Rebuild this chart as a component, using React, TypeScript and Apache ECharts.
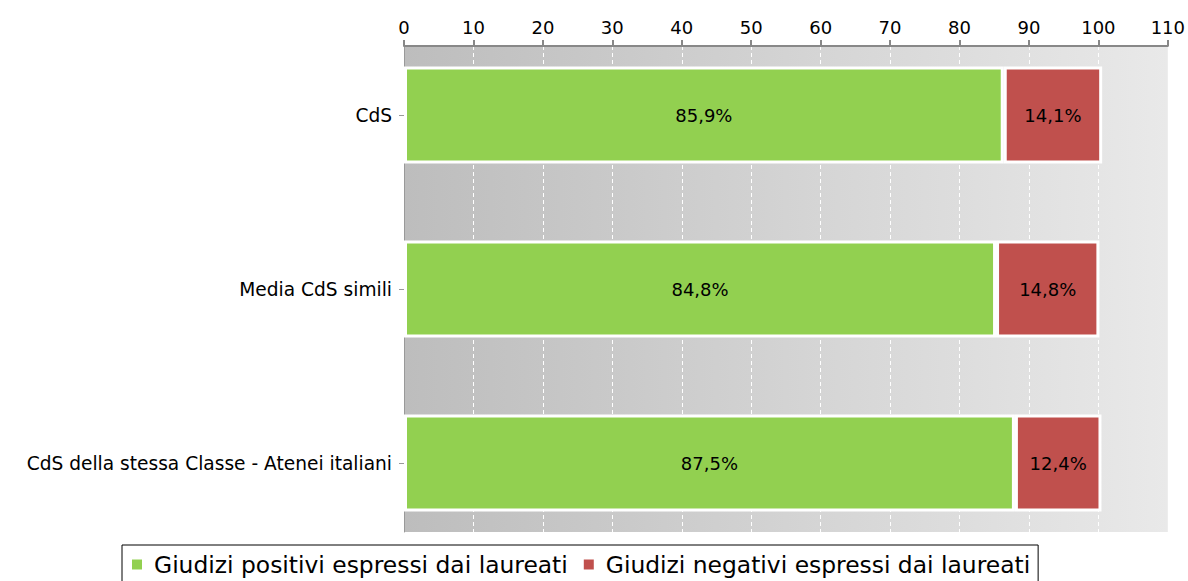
import React, { useEffect, useRef } from "react";
import * as echarts from "echarts";

const categories = ["CdS", "Media CdS simili", "CdS della stessa Classe - Atenei italiani"];
const positivi = [85.9, 84.8, 87.5];
const negativi = [14.1, 14.8, 12.4];
const seriesNames = ["Giudizi positivi espressi dai laureati", "Giudizi negativi espressi dai laureati"];
const xMin = 0;
const xMax = 110;
const xStep = 10;

const FONT = "DejaVu Sans";

function fmt(v: number) {
  return v.toFixed(1).replace(".", ",") + "%";
}

export default function App() {
  const ref = useRef<HTMLDivElement>(null);
  useEffect(() => {
    if (!ref.current) return;
    const chart = echarts.init(ref.current, undefined, { renderer: "svg" });
    const labelStyle = {
      show: true,
      position: "inside",
      color: "#000",
      fontFamily: FONT,
      fontSize: 18,
      formatter: (p: any) => fmt(p.value),
    };
    chart.setOption({
      animation: false,
      textStyle: { fontFamily: FONT },
      grid: [
        { left: 404, right: 16, top: 28, bottom: 31, containLabel: false },
        {
          left: 404,
          right: 16,
          top: 46,
          bottom: 49,
          show: true,
          borderWidth: 0,
          backgroundColor: new echarts.graphic.LinearGradient(0, 0, 1, 0, [
            { offset: 0, color: "#bdbdbd" },
            { offset: 1, color: "#e9e9e9" },
          ]),
        },
      ],
      xAxis: [
        { type: "value", gridIndex: 0, min: xMin, max: xMax, interval: xStep, show: false },
        {
          type: "value",
          gridIndex: 1,
          position: "top",
          min: xMin,
          max: xMax,
          interval: xStep,
          axisLine: { show: true, lineStyle: { color: "#888", width: 2 } },
          axisTick: { show: true, length: 6, lineStyle: { color: "#888", width: 2 } },
          axisLabel: { color: "#000", fontSize: 18, fontFamily: FONT, margin: 10 },
          splitLine: { show: true, lineStyle: { color: "#ffffff", type: [4, 3], width: 1 } },
        },
      ],
      yAxis: [
        {
          type: "category",
          gridIndex: 0,
          data: categories,
          inverse: true,
          axisLine: { show: false },
          axisTick: { show: true, alignWithLabel: true, length: 5, lineStyle: { color: "#999" } },
          axisLabel: { color: "#000", fontSize: 18.6, fontFamily: FONT, margin: 12 },
        },
        {
          type: "category",
          gridIndex: 1,
          data: categories,
          inverse: true,
          axisLine: { show: true, lineStyle: { color: "#999", width: 1 } },
          axisTick: { show: false },
          axisLabel: { show: false },
        },
      ],
      legend: {
        left: 122,
        top: 545,
        data: seriesNames,
        itemWidth: 12,
        itemHeight: 12,
        itemGap: 14,
        icon: "rect",
        borderColor: "#000",
        borderWidth: 1,
        borderRadius: 0,
        padding: [8, 8, 10, 8],
        backgroundColor: "#fff",
        textStyle: { color: "#000", fontSize: 23.4, fontFamily: FONT, padding: [0, 0, 0, 6] },
      },
      series: [
        {
          name: seriesNames[0],
          type: "bar",
          stack: "tot",
          xAxisIndex: 0,
          yAxisIndex: 0,
          data: positivi,
          barWidth: 97,
          itemStyle: { color: "#92d050", borderColor: "#fff", borderWidth: 3 },
          label: labelStyle,
        },
        {
          name: seriesNames[1],
          type: "bar",
          stack: "tot",
          xAxisIndex: 0,
          yAxisIndex: 0,
          data: negativi,
          barWidth: 97,
          itemStyle: { color: "#c0504d", borderColor: "#fff", borderWidth: 3 },
          label: labelStyle,
        },
      ],
    });
    return () => chart.dispose();
  }, []);
  return <div ref={ref} style={{ width: 1188, height: 581, position: "absolute", left: 0, top: 0 }} />;
}
